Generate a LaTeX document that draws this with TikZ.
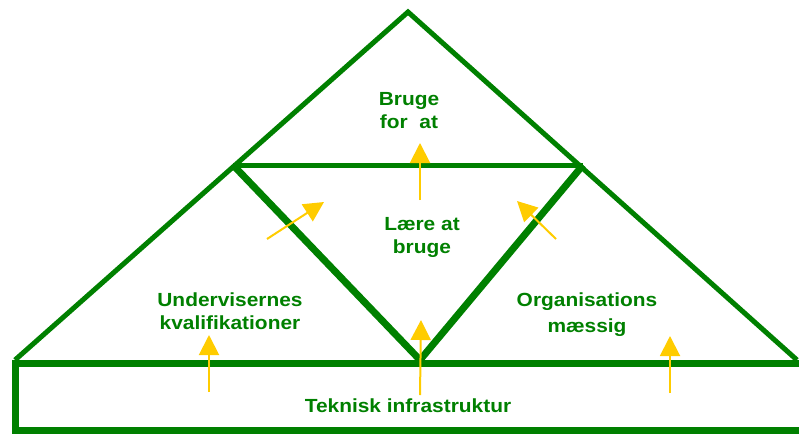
\documentclass[tikz,border=0pt]{standalone}
\usepackage{fontspec}
\setmainfont{Liberation Sans}
\usetikzlibrary{arrows.meta}
\definecolor{roofgreen}{HTML}{008000}
\definecolor{liftgold}{HTML}{FFCC00}

\begin{document}
\begin{tikzpicture}[
      x=1pt, y=-1pt,
      roof/.style={draw=roofgreen, line width=5pt, line join=miter},
      wall/.style={draw=roofgreen, line width=7pt, line join=miter},
      lift/.style={-{Triangle[length=20pt, width=20pt]}, line width=2pt, liftgold},
      label/.style={
        font=\fontsize{19}{23}\selectfont\bfseries, text=roofgreen,
        align=center, inner sep=0pt, xscale=1.1, transform shape
      }
    ]
      \useasboundingbox (0,0) rectangle (799,434);

      % corners of the roof
      \coordinate (apex) at (408,12);
      \coordinate (eaveL) at (15,360);
      \coordinate (eaveR) at (797,360);
      \coordinate (beamL) at (233,165);
      \coordinate (beamR) at (583,165);
      \coordinate (keel) at (420,360);
      % corners of the base
      \coordinate (baseNW) at (15.5,363);
      \coordinate (baseSW) at (15.5,430);
      \coordinate (baseNE) at (812,363);
      \coordinate (baseSE) at (812,430);

      \draw[roof] (eaveL) -- (apex) -- (eaveR);
      \draw[roof] (beamL) -- (beamR);
      \draw[wall] (beamL) -- (keel) -- (beamR);
      \draw[wall] (baseNE) -- (baseNW) -- (baseSW) -- (baseSE);

      \node[label, anchor=north] (bruge) at (409,92) {Bruge\\for\ \ at};
      \node[label, anchor=north] (laere) at (422,217) {Lære at\\bruge};
      \node[label, anchor=north] (kval) at (230,293) {Undervisernes\\kvalifikationer};
      \node[label, anchor=north, font=\fontsize{19}{26}\selectfont\bfseries] (org) at (587,293) {Organisations\\mæssig};
      \node[label, anchor=base] (infra) at (408,412) {Teknisk infrastruktur};

      % arrow ends
      \coordinate (upA0) at (420,200);  \coordinate (upA1) at (420,143);
      \coordinate (upB0) at (267,239);  \coordinate (upB1) at (324,202);
      \coordinate (upC0) at (556,239);  \coordinate (upC1) at (517,201);
      \coordinate (upD0) at (420,395);  \coordinate (upD1) at (421,320);
      \coordinate (upE0) at (209,392);  \coordinate (upE1) at (209,335);
      \coordinate (upF0) at (670,393);  \coordinate (upF1) at (670,336);

      \draw[lift] (upA0) -- (upA1);
      \draw[lift] (upB0) -- (upB1);
      \draw[lift] (upC0) -- (upC1);
      \draw[lift] (upD0) -- (upD1);
      \draw[lift] (upE0) -- (upE1);
      \draw[lift] (upF0) -- (upF1);
    \end{tikzpicture}
\end{document}
